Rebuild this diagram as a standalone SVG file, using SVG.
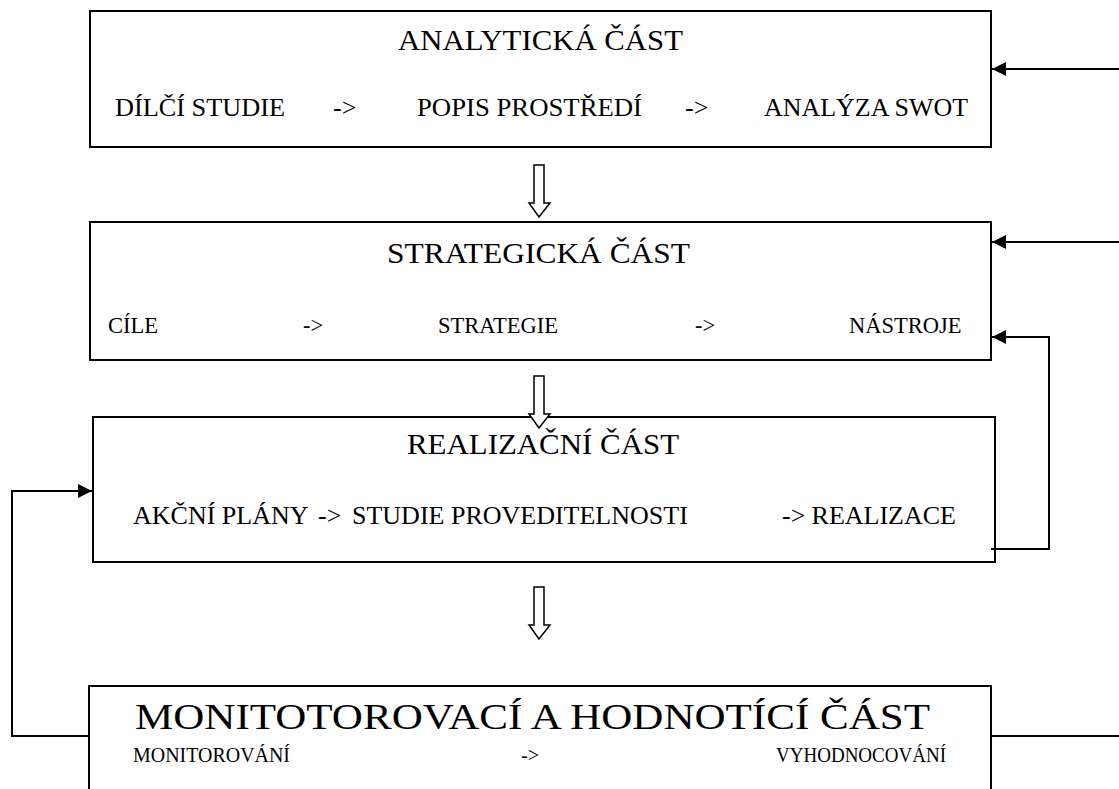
<svg xmlns="http://www.w3.org/2000/svg" width="1119" height="789" viewBox="0 0 1119 789">
<style>
.box{fill:none;stroke:#000;stroke-width:2}
text{font-family:"Liberation Serif","Times New Roman",serif;fill:#000}
.t{font-size:30px}
.s1{font-size:26px}
.s2{font-size:22.5px}
.s3{font-size:26px}
.s4{font-size:20px}
.t4{font-size:36px}
.ln{fill:none;stroke:#000;stroke-width:2}
.hol{fill:#fff;stroke:#000;stroke-width:1.5}
</style>
<defs>
<marker id="ah" viewBox="0 0 10 10" refX="10" refY="5" markerWidth="7" markerHeight="7" markerUnits="strokeWidth" orient="auto">
<path d="M0,0 L10,5 L0,10 Z" fill="#000"/>
</marker>
</defs>
<rect width="1119" height="789" fill="#fff"/>
<g id="node-analyticka">
<rect class="box" x="90" y="11" width="901" height="136"/>
<text class="t" x="398" y="50" textLength="285" lengthAdjust="spacingAndGlyphs">ANALYTICKÁ ČÁST</text>
<text class="s1" x="115" y="116" textLength="170" lengthAdjust="spacingAndGlyphs">DÍLČÍ STUDIE</text>
<text class="s1" x="333" y="116">-&gt;</text>
<text class="s1" x="417" y="116" textLength="225" lengthAdjust="spacingAndGlyphs">POPIS PROSTŘEDÍ</text>
<text class="s1" x="685" y="116">-&gt;</text>
<text class="s1" x="764" y="116" textLength="204" lengthAdjust="spacingAndGlyphs">ANALÝZA SWOT</text>
</g>
<g id="node-strategicka">
<rect class="box" x="90" y="222" width="901" height="138"/>
<text class="t" x="387" y="263" textLength="303" lengthAdjust="spacingAndGlyphs">STRATEGICKÁ ČÁST</text>
<text class="s2" x="108" y="333">CÍLE</text>
<text class="s2" x="303" y="333">-&gt;</text>
<text class="s2" x="438" y="333">STRATEGIE</text>
<text class="s2" x="695" y="333">-&gt;</text>
<text class="s2" x="849" y="333">NÁSTROJE</text>
</g>
<g id="node-realizacni">
<rect class="box" x="93" y="417" width="902" height="145"/>
<text class="t" x="407" y="454" textLength="272" lengthAdjust="spacingAndGlyphs">REALIZAČNÍ ČÁST</text>
<text class="s3" x="133" y="524">AKČNÍ PLÁNY</text>
<text class="s3" x="318" y="524">-&gt;</text>
<text class="s3" x="352" y="524">STUDIE PROVEDITELNOSTI</text>
<text class="s3" x="782" y="524">-&gt;</text>
<text class="s3" x="956" y="524" text-anchor="end">REALIZACE</text>
</g>
<g id="node-monitorovaci">
<path class="box" d="M89,789 V686 H991 V789"/>
<text class="t4" x="135" y="729" textLength="795" lengthAdjust="spacingAndGlyphs">MONITOTOROVACÍ A HODNOTÍCÍ ČÁST</text>
<text class="s4" x="133" y="762" textLength="157" lengthAdjust="spacingAndGlyphs">MONITOROVÁNÍ</text>
<text class="s4" x="521" y="762">-&gt;</text>
<text class="s4" x="776" y="762" textLength="170" lengthAdjust="spacingAndGlyphs">VYHODNOCOVÁNÍ</text>
</g>
<g id="connectors">
<path class="hol" d="M534,165 H544 V203 H550 L539,217 L529,203 H534 Z"/>
<path class="hol" d="M534,376 H544 V414 H550 L539,428 L529,414 H534 Z"/>
<path class="hol" d="M534,587 H544 V625 H550 L539,639 L529,625 H534 Z"/>
<path class="ln" d="M1119,69 H992" marker-end="url(#ah)"/>
<path class="ln" d="M1119,242 H992" marker-end="url(#ah)"/>
<path class="ln" d="M991,549 H1049 V337 H992" marker-end="url(#ah)"/>
<path class="ln" d="M89,736 H12 V491 H92" marker-end="url(#ah)"/>
<path class="ln" d="M991,736 H1119"/>
</g>
</svg>
